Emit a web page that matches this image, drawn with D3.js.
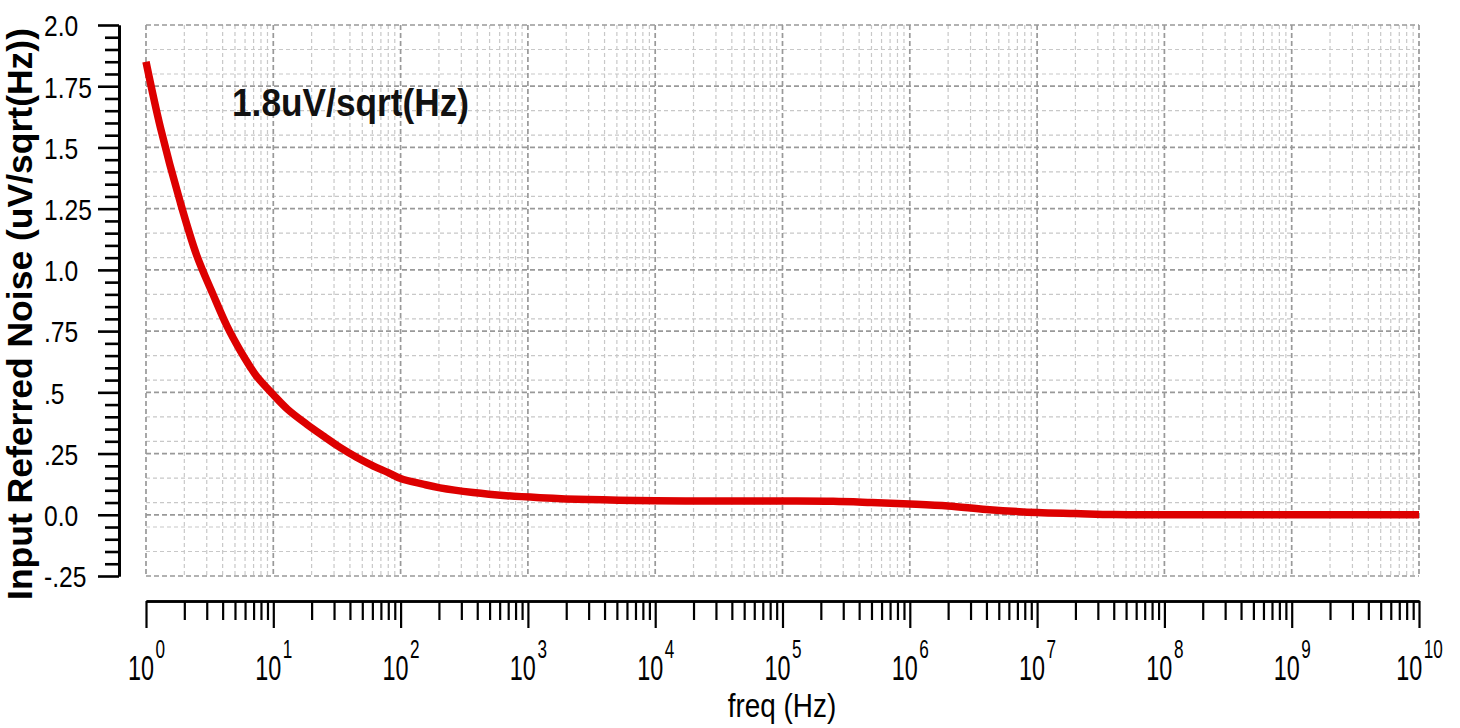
<!DOCTYPE html>
<html><head><meta charset="utf-8">
<script src="https://cdn.jsdelivr.net/npm/d3@7"></script>
<style>body{margin:0;background:#fff;} svg{display:block}</style>
</head><body><svg id="c" width="1460" height="728"></svg>
<script>
// ---- data ----
const freq  = [1, 1.3, 1.85, 2.5, 3.36, 4.33, 5.5, 6.56, 7.4, 10, 13, 18.3, 25, 33.4, 45, 60.7, 80, 100, 150, 204, 371, 680, 1245, 3000, 1e4, 3e4, 1e5, 2.5e5, 5e5, 1e6, 2e6, 4e6, 1e7, 2e7, 4e7, 1e8, 1e9, 1e10];
const noise = [1.85, 1.58, 1.28, 1.06, 0.90, 0.77, 0.67, 0.605, 0.565, 0.49, 0.43, 0.37, 0.32, 0.275, 0.235, 0.20, 0.172, 0.148, 0.125, 0.110, 0.091, 0.078, 0.070, 0.062, 0.057, 0.056, 0.056, 0.055, 0.050, 0.044, 0.036, 0.022, 0.009, 0.005, 0.001, 0.0, 0.0, 0.0];
const yTickValues = [-0.25, 0, 0.25, 0.5, 0.75, 1.0, 1.25, 1.5, 1.75, 2.0];
const yTickLabels = ["-.25", "0.0", ".25", ".5", ".75", "1.0", "1.25", "1.5", "1.75", "2.0"];
const yMinorGrid = [-0.15, -0.05, 0.05, 0.15, 0.3, 0.4, 0.55, 0.65, 0.8, 0.9, 1.05, 1.15, 1.3, 1.4, 1.55, 1.65, 1.8, 1.9];
const decadeExponents = [0,1,2,3,4,5,6,7,8,9,10];
const annotationText = "1.8uV/sqrt(Hz)";
const xTitle = "freq (Hz)";
const yTitle = "Input Referred Noise (uV/sqrt(Hz))";

// ---- layout ----
const svg = d3.select("#c");
const x = d3.scaleLog().domain([1, 1e10]).range([146, 1419]);
const y = d3.scaleLinear().domain([-0.25, 2.0]).range([576, 25]);
const sans = "'Liberation Sans', Arial, Helvetica, sans-serif";

const decades = decadeExponents.map(e => Math.pow(10, e));
const minorX = [];
decadeExponents.slice(0, -1).forEach(e => { for (let k = 2; k <= 9; k++) minorX.push(k * Math.pow(10, e)); });
const minorYTicks = d3.range(-0.25, 2.0001, 0.05).map(v => +v.toFixed(2)).filter(v => !yTickValues.some(t => Math.abs(t - v) < 1e-6));

// grid
const g = svg.append("g");
g.selectAll(".vmin").data(minorX).join("line")
  .attr("x1", d => x(d)).attr("x2", d => x(d)).attr("y1", y(2.0)).attr("y2", y(-0.25))
  .attr("stroke", "#c8c8c8").attr("stroke-width", 1.2).attr("stroke-dasharray", "4,3");
g.selectAll(".hmin").data(yMinorGrid).join("line")
  .attr("x1", x(1)).attr("x2", x(1e10)).attr("y1", d => y(d)).attr("y2", d => y(d))
  .attr("stroke", "#c8c8c8").attr("stroke-width", 1.2).attr("stroke-dasharray", "4,3");
g.selectAll(".vmaj").data(decades).join("line")
  .attr("x1", d => x(d)).attr("x2", d => x(d)).attr("y1", y(2.0)).attr("y2", y(-0.25))
  .attr("stroke", "#999").attr("stroke-width", 1.7).attr("stroke-dasharray", "5,3");
g.selectAll(".hmaj").data(yTickValues).join("line")
  .attr("x1", x(1)).attr("x2", x(1e10)).attr("y1", d => y(d)).attr("y2", d => y(d))
  .attr("stroke", "#999").attr("stroke-width", 1.7).attr("stroke-dasharray", "5,3");

// y axis
const yAxisX = 119;
const yMin = svg.append("g").attr("transform", `translate(${yAxisX},0)`)
  .call(d3.axisLeft(y).tickValues(minorYTicks).tickSize(14).tickSizeOuter(0).tickFormat(""));
const yMaj = svg.append("g").attr("transform", `translate(${yAxisX},0)`)
  .call(d3.axisLeft(y).tickValues(yTickValues).tickSize(21).tickSizeOuter(0).tickFormat(""));
[yMin, yMaj].forEach(a => {
  a.selectAll("line").attr("stroke", "#000").attr("stroke-width", 2.6);
  a.select(".domain").attr("stroke", "#000").attr("stroke-width", 2.8);
  a.selectAll("text").remove();
});
yMaj.selectAll("g.tick").append("text")
  .attr("transform", `translate(${44 - yAxisX},0) scale(0.82,1)`)
  .attr("text-anchor", "start").attr("dy", "0.36em")
  .attr("font-family", sans).attr("font-size", 30).attr("fill", "#000")
  .text((d, i) => yTickLabels[i]);

// x axis
const xAxisY = 601;
const xMin = svg.append("g").attr("transform", `translate(0,${xAxisY})`)
  .call(d3.axisBottom(x).tickValues(minorX).tickSize(19).tickSizeOuter(0).tickFormat(""));
const xMaj = svg.append("g").attr("transform", `translate(0,${xAxisY})`)
  .call(d3.axisBottom(x).tickValues(decades).tickSize(27).tickSizeOuter(0).tickFormat(""));
[xMin, xMaj].forEach(a => {
  a.selectAll("line").attr("stroke", "#000").attr("stroke-width", 2.2);
  a.select(".domain").attr("stroke", "#000").attr("stroke-width", 2.4);
  a.selectAll("text").remove();
});
xMaj.selectAll("g.tick").each(function(d, i) {
  const txt = d3.select(this).append("text")
    .attr("transform", `translate(0,${680 - xAxisY}) scale(0.78,1.2)`)
    .attr("text-anchor", "middle").attr("fill", "#000").attr("font-family", sans)
    .attr("font-size", 30);
  txt.append("tspan").text("10");
  txt.append("tspan").attr("font-size", 22).attr("dy", -18).attr("dx", 2).text(String(decadeExponents[i]));
});

// curve
const pts = freq.map((f, i) => [f, noise[i]]);
svg.append("path").datum(pts)
  .attr("fill", "none").attr("stroke", "#dd0000").attr("stroke-width", 7.5)
  .attr("stroke-linejoin", "round")
  .attr("d", d3.line().x(d => x(d[0])).y(d => y(d[1])).curve(d3.curveCatmullRom.alpha(0.5)));

// annotation
svg.append("text").attr("transform", "translate(232,116) scale(0.98,1.06)")
  .attr("font-family", sans).attr("font-weight", "bold")
  .attr("font-size", 36).attr("fill", "#111").text(annotationText);

// titles
svg.append("text").attr("transform", "translate(782,717) scale(0.82,1)").attr("text-anchor", "middle")
  .attr("font-family", sans).attr("font-size", 34).attr("fill", "#000").text(xTitle);
svg.append("text").attr("transform", "translate(32,314) rotate(-90)").attr("text-anchor", "middle")
  .attr("font-family", sans).attr("font-weight", "bold")
  .attr("font-size", 35.5).attr("fill", "#000").text(yTitle);
</script></body></html>
